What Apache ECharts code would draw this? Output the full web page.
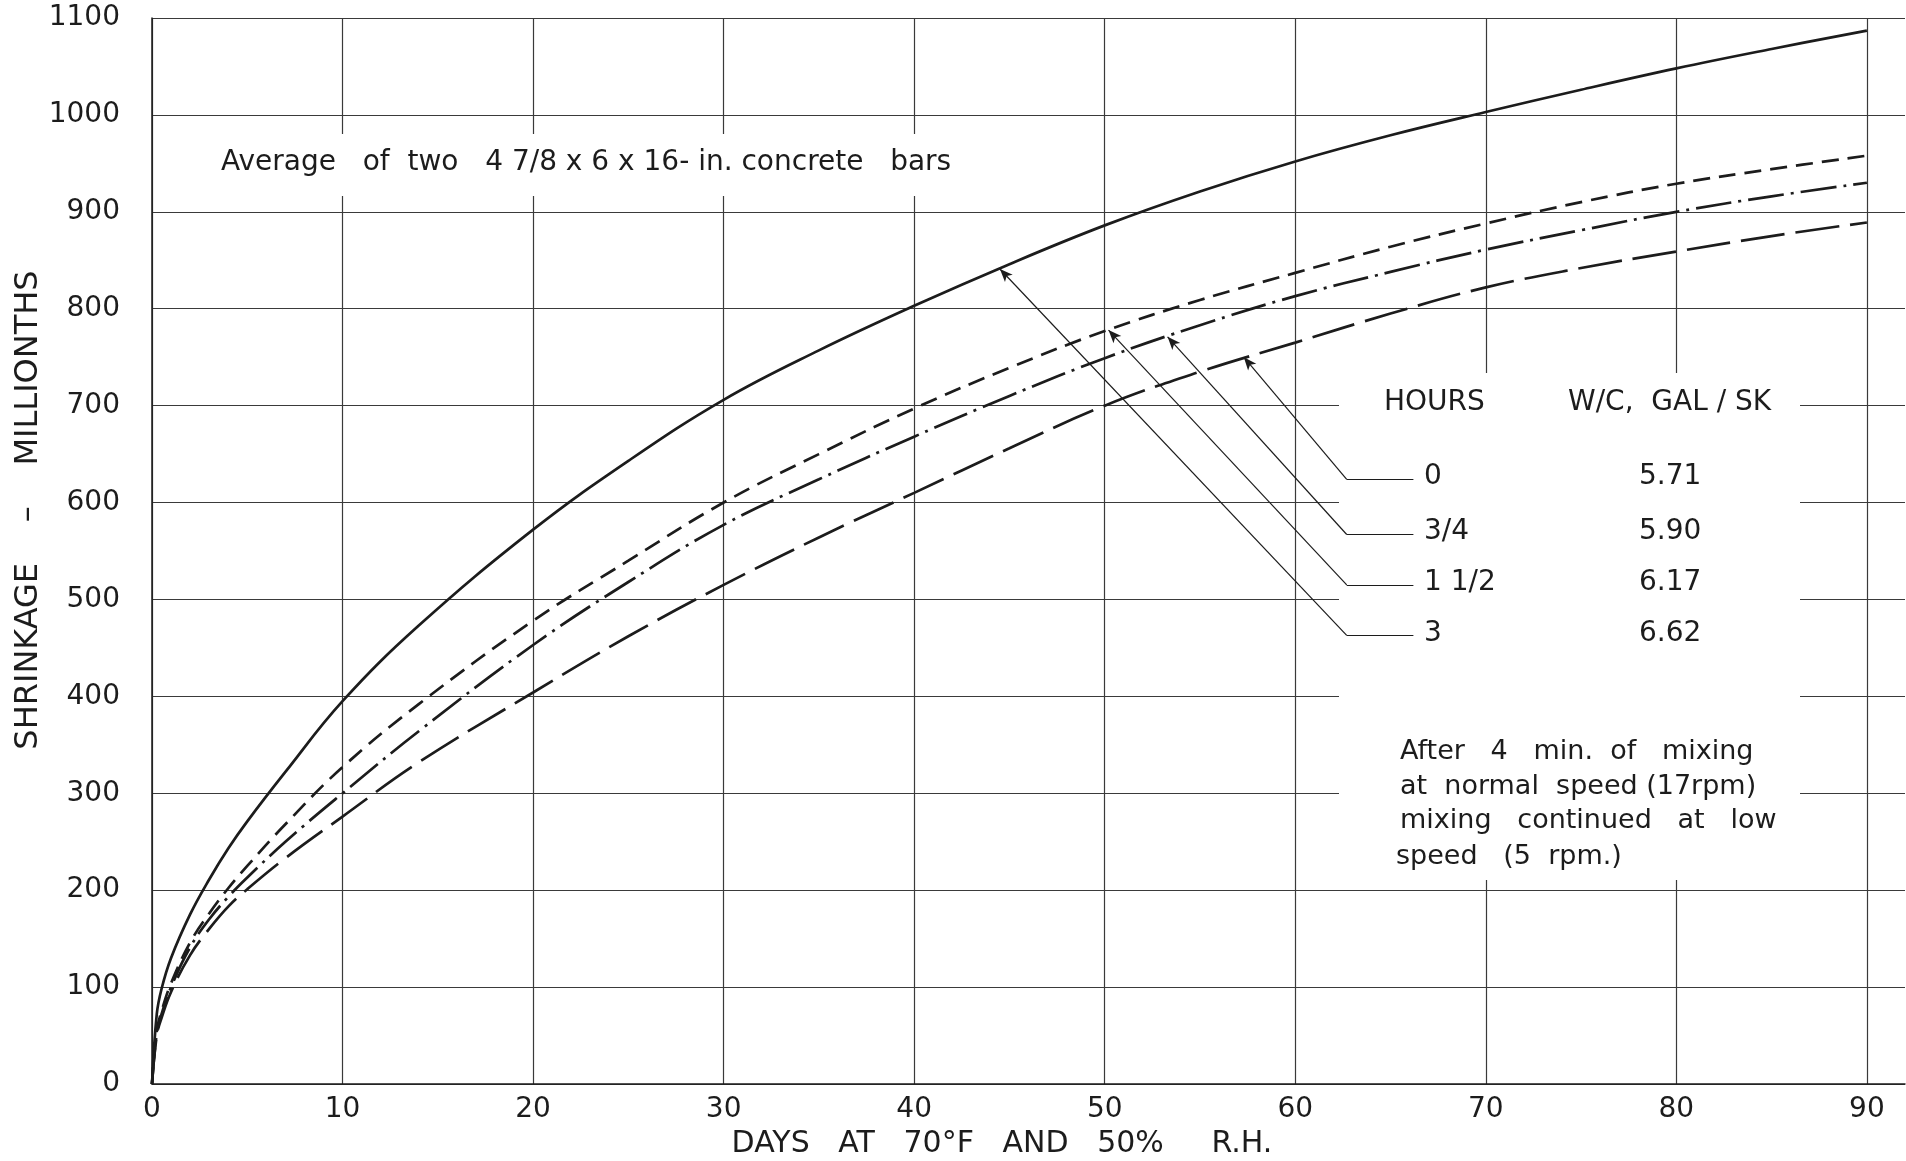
<!DOCTYPE html>
<html>
<head>
<meta charset="UTF-8">
<title>Shrinkage vs days</title>
<script src="https://cdn.jsdelivr.net/npm/echarts@6/dist/echarts.min.js"></script>
<style>
html, body { margin: 0; padding: 0; background: #fff; }
#main { width: 1906px; height: 1161px; }
</style>
</head>
<body>
<div id="main"></div>
<script>
// days at 70F and 50% RH
var days = [0, 0.25, 0.5, 1, 2, 3, 4, 5, 7, 10, 14, 20, 25, 30, 35, 40, 45, 50, 55, 60, 65, 70, 75, 80, 85, 90];

// shrinkage, millionths
var hrs3   = [0, 72, 98, 130, 175, 211, 243, 271, 322, 395, 473, 572, 643, 706, 757, 803, 846, 886, 921, 952, 979, 1003, 1026, 1048, 1068, 1087]; // solid, 6.62
var hrs1_5 = [0, 55, 75, 104, 146, 176, 202, 225, 268, 327, 392, 478, 540, 600, 650, 697, 739, 777, 809, 837, 864, 888, 910, 929, 944, 958];  // dashed, 6.17
var hrs3_4 = [0, 52, 72, 100, 141, 170, 193, 213, 250, 300, 364, 453, 518, 577, 624, 668, 710, 749, 783, 813, 838, 861, 881, 900, 916, 930];  // dash-dot, 5.90
var hrs0   = [0, 50, 68, 95, 133, 160, 183, 201, 233, 276, 332, 404, 462, 515, 564, 610, 656, 700, 735, 765, 795, 822, 842, 859, 875, 889];  // long dash, 5.71

var xTicks = [0, 10, 20, 30, 40, 50, 60, 70, 80, 90];
var yTicks = [0, 100, 200, 300, 400, 500, 600, 700, 800, 900, 1000, 1100];

// legend table rows (top to bottom) and where their leader lines point
var rowHours = ['0', '3/4', '1 1/2', '3'];
var rowWC    = ['5.71', '5.90', '6.17', '6.62'];
var rowLevel = [624, 567, 515, 463];       // y value of the horizontal legs
var tipDay   = [57.3, 53.3, 50.2, 44.5];   // arrow tips on the curves
var tipValue = [750, 771, 778, 841];
var elbowDay = 62.7, legEndDay = 66.2;

var FONT = '"DejaVu Sans", "Liberation Sans", sans-serif';
var INK = '#1c1c1c';

function pts(vals) {
  return days.map(function (d, i) { return [d, vals[i]]; });
}

function leader(i) {
  return [
    [{ coord: [legEndDay, rowLevel[i]] }, { coord: [elbowDay, rowLevel[i]] }],
    [{ coord: [elbowDay, rowLevel[i]], symbol: 'none' },
     { coord: [tipDay[i], tipValue[i]], symbol: 'arrow', symbolSize: [8, 13] }]
  ];
}

function curve(name, vals, dash, row) {
  return {
    name: name,
    type: 'line',
    data: pts(vals),
    showSymbol: false,
    smooth: 0.4,
    lineStyle: { color: INK, width: 2.7, type: dash, cap: 'butt' },
    markLine: {
      silent: true,
      symbol: ['none', 'none'],
      label: { show: false },
      lineStyle: { color: INK, width: 1.2, type: 'solid' },
      data: leader(row)
    }
  };
}

function txt(x, y, s, size, align) {
  return {
    type: 'text', x: x, y: y, z: 6,
    style: {
      text: s, fill: INK, font: size + 'px ' + FONT,
      align: align || 'left', verticalAlign: 'middle'
    }
  };
}

var graphics = [
  // white boxes behind the notes, as in the original
  { type: 'rect', z: 1, shape: { x: 206, y: 134, width: 780, height: 62 }, style: { fill: '#fff' } },
  { type: 'rect', z: 1, shape: { x: 1339, y: 373, width: 461, height: 507 }, style: { fill: '#fff' } },

  txt(221, 163, 'Average   of  two   4 7/8 x 6 x 16- in. concrete   bars', 28),

  txt(1384, 403, 'HOURS', 28),
  txt(1568, 403, 'W/C,  GAL / SK', 28),

  txt(1400, 752, 'After   4   min.  of   mixing', 27),
  txt(1400, 787, 'at  normal  speed (17rpm)', 27),
  txt(1400, 821, 'mixing   continued   at   low', 27),
  txt(1396, 857, 'speed   (5  rpm.)', 27),

  txt(1002, 1144, 'DAYS   AT   70°F   AND   50%     R.H.', 30, 'center'),
  {
    type: 'text', x: 29, y: 510, z: 6, rotation: Math.PI / 2,
    style: {
      text: 'SHRINKAGE    –    MILLIONTHS', fill: INK, font: '32px ' + FONT,
      align: 'center', verticalAlign: 'middle'
    }
  }
];

var rowY = [477, 532, 583, 634];
rowHours.forEach(function (h, i) {
  graphics.push(txt(1424, rowY[i], h, 28));
  graphics.push(txt(1639, rowY[i], rowWC[i], 28));
});

var myChart = echarts.init(document.getElementById('main'));
var option = {
  animation: false,
  backgroundColor: '#fff',
  grid: { left: 152, right: 1, top: 18, bottom: 77, containLabel: false },
  xAxis: {
    type: 'value',
    min: 0, max: 92, interval: 10,
    axisLine: { show: true, onZero: false, lineStyle: { color: INK, width: 1.5 } },
    axisTick: { show: false },
    axisLabel: {
      margin: 12, color: INK, fontSize: 28, fontFamily: FONT,
      showMaxLabel: false,
      formatter: function (v) { return xTicks.indexOf(v) >= 0 ? String(v) : ''; }
    },
    splitLine: { show: true, showMaxLine: false, lineStyle: { color: '#3a3a3a', width: 1.2 } }
  },
  yAxis: {
    type: 'value',
    min: 0, max: 1100, interval: 100,
    axisLine: { show: true, onZero: false, lineStyle: { color: INK, width: 1.5 } },
    axisTick: { show: false },
    axisLabel: {
      margin: 32, color: INK, fontSize: 28, fontFamily: FONT,
      formatter: function (v) { return yTicks.indexOf(v) >= 0 ? String(v) : ''; }
    },
    splitLine: { show: true, lineStyle: { color: '#3a3a3a', width: 1.2 } }
  },
  graphic: graphics,
  series: [
    curve('0 hr, 5.71', hrs0, [44, 11], 0),
    curve('3/4 hr, 5.90', hrs3_4, [36, 7, 3, 7], 1),
    curve('1 1/2 hr, 6.17', hrs1_5, [17, 9], 2),
    curve('3 hr, 6.62', hrs3, 'solid', 3)
  ]
};
myChart.setOption(option);
</script>
</body>
</html>
